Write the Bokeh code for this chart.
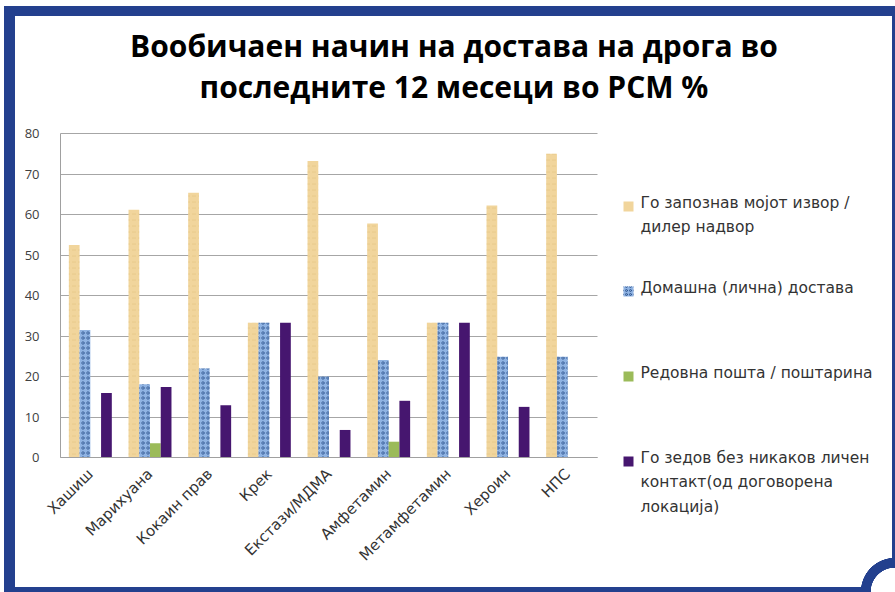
import math
from bokeh.plotting import figure
from bokeh.models import (ColumnDataSource, Range1d, FixedTicker, Label, BoxAnnotation,
                          Title, Grid)
from bokeh.transform import dodge
from bokeh.embed import file_html
from bokeh.resources import INLINE

categories = ["Хашиш", "Марихуана", "Кокаин прав", "Крек", "Екстази/МДМА",
              "Амфетамин", "Метамфетамин", "Хероин", "НПС"]
series_names = ["Го запознав мојот извор /\nдилер надвор",
                "Домашна (лична) достава",
                "Редовна пошта / поштарина",
                "Го зедов без никаков личен\nконтакт(од договорена\nлокација)"]
met_dealer = [52.5, 61.2, 65.4, 33.3, 73.2, 57.8, 33.3, 62.2, 75.0]
home_delivery = [31.5, 18.1, 22.0, 33.3, 20.0, 24.1, 33.3, 24.9, 24.9]
regular_mail = [0.0, 3.5, 0.0, 0.0, 0.0, 3.9, 0.0, 0.0, 0.0]
no_contact = [15.9, 17.4, 12.9, 33.3, 6.8, 14.0, 33.3, 12.5, 0.0]
y_ticks = [0, 10, 20, 30, 40, 50, 60, 70, 80]
title_lines = ["Вообичаен начин на достава на дрога во",
               "последните 12 месеци во РСМ %"]

BLUE = "#23408e"
ORANGE = "#f1d59c"
LBLUE = "#8fb3e3"
GREEN = "#9bbb59"
PURPLE = "#46166f"

n = len(categories)
idx = list(range(n))
src = ColumnDataSource(dict(idx=idx, cat=categories, s1=met_dealer, s2=home_delivery,
                            s3=regular_mail, s4=no_contact))

# geometry (pixels)
W, H = 895, 592
F_LEFT, F_RIGHT, F_TOP, F_BOTTOM = 16, 891, 120, 585
CAT_LEFT, CAT_RIGHT = 60, 597      # category (plot) area
Y0_PX, Y80_PX = 457, 133           # pixel rows of values 0 and 80
px_per_cat = (CAT_RIGHT - CAT_LEFT) / n
px_per_unit = (Y0_PX - Y80_PX) / 80.0
x_start = -0.5 - (CAT_LEFT - F_LEFT) / px_per_cat
x_end = -0.5 + (F_RIGHT - CAT_LEFT) / px_per_cat
y_end = 80.0 + (Y80_PX - F_TOP) / px_per_unit
y_start = y_end - (F_BOTTOM - F_TOP) / px_per_unit

p = figure(x_range=Range1d(x_start, x_end), y_range=Range1d(y_start, y_end),
           width=W, height=H, output_backend="svg", toolbar_location=None,
           min_border_left=F_LEFT, min_border_right=W - F_RIGHT,
           min_border_top=F_TOP, min_border_bottom=H - F_BOTTOM)

band = f"linear-gradient({BLUE},{BLUE})"
p.styles = {
    "background": (
        f"radial-gradient(circle at 100% 100%, #ffffff 0 24px, {BLUE} 24.5px 34px, transparent 34.5px),"
        f"{band} 4px 6px / calc(100% - 4px) 10px no-repeat,"
        f"{band} 4px 6px / 11px calc(100% - 6px) no-repeat,"
        f"{band} right 0px top 6px / 3px calc(100% - 6px) no-repeat,"
        f"{band} left 4px bottom 0px / calc(100% - 4px) 5px no-repeat,"
        "#ffffff"
    )
}
p.border_fill_color = None
p.background_fill_color = None
p.outline_line_color = None

w = 0.18
p.vbar(x=dodge("idx", -0.27), top="s1", width=w, source=src,
       fill_color=ORANGE, line_color=None,
       hatch_pattern="horizontal_dash", hatch_color="#e2c07e", hatch_alpha=0.6,
       hatch_scale=6, hatch_weight=1)
p.vbar(x=dodge("idx", -0.09), top="s2", width=w, source=src,
       fill_color=LBLUE, line_color=None,
       hatch_pattern="ring", hatch_color="#2f558f", hatch_alpha=0.8,
       hatch_scale=5, hatch_weight=1)
p.vbar(x=dodge("idx", 0.09), top="s3", width=w, source=src,
       fill_color=GREEN, line_color=None)
p.vbar(x=dodge("idx", 0.27), top="s4", width=w, source=src,
       fill_color=PURPLE, line_color=None)

# title: one two-line title, lines centred
TFONT = "Open Sans"
TSIZE = 30
if "text_align" in Title.properties():
    p.title.text = "\n".join(title_lines)
    p.title.text_align = "center"
else:
    pad = "\u00a0" * 9
    p.title.text = title_lines[0] + "\n" + pad + title_lines[1]
p.title.text_font = TFONT
p.title.text_font_style = "bold"
p.title.text_font_size = f"{TSIZE}px"
p.title.text_color = "#000000"
p.title.text_line_height = 1.0
p.title.align = "center"
p.title.standoff = 28

# axes
p.yaxis.fixed_location = -0.5
p.yaxis.ticker = FixedTicker(ticks=y_ticks)
p.yaxis.bounds = (0, 80)
p.yaxis.major_tick_line_color = None
p.yaxis.minor_tick_line_color = None
p.yaxis.axis_line_color = "#a0a0a0"
p.yaxis.major_label_text_font = "Open Sans"
p.yaxis.major_label_text_font_size = "13px"
p.yaxis.major_label_text_color = "#404040"
p.yaxis.major_label_standoff = 15

p.xaxis.fixed_location = 0
p.xaxis.bounds = (-0.5, n - 0.5)
p.xaxis.ticker = FixedTicker(ticks=idx)
p.xaxis.major_label_overrides = {i: c for i, c in zip(idx, categories)}
p.xaxis.major_label_orientation = math.pi / 4
p.xaxis.major_tick_line_color = None
p.xaxis.minor_tick_line_color = None
p.xaxis.axis_line_color = "#a0a0a0"
p.xaxis.major_label_text_font = "DejaVu Sans"
p.xaxis.major_label_text_font_size = "15px"
p.xaxis.major_label_text_color = "#333333"
p.xaxis.major_label_standoff = 8

p.xgrid.grid_line_color = None
p.ygrid.ticker = FixedTicker(ticks=y_ticks)
p.ygrid.grid_line_color = "#a6a6a6"
if "cross_bounds" in Grid.properties():
    p.ygrid.cross_bounds = (-0.5, n - 0.5)
else:
    p.ygrid.visible = False
    p.segment(x0=[-0.5] * len(y_ticks), x1=[n - 0.5] * len(y_ticks), y0=y_ticks, y1=y_ticks,
              line_color="#a6a6a6", level="underlay")

# legend (frame-relative screen coordinates, y up from frame bottom)
colors = [ORANGE, LBLUE, GREEN, PURPLE]
first_line_y = [202, 287, 372, 457]
line_gap = 24.5
text_x = 640 - F_LEFT
box_l = 623 - F_LEFT
for name, col, cy in zip(series_names, colors, first_line_y):
    y0 = F_BOTTOM - cy
    box = BoxAnnotation(left=box_l, right=box_l + 10, bottom=y0 - 9, top=y0 + 1,
                        left_units="screen", right_units="screen",
                        bottom_units="screen", top_units="screen",
                        fill_color=col, fill_alpha=1, line_color=None)
    if col == LBLUE:
        box.hatch_pattern = "ring"
        box.hatch_color = "#2f558f"
        box.hatch_scale = 4
    p.add_layout(box)
    for i, line in enumerate(name.split("\n")):
        p.add_layout(Label(x=text_x, y=y0 - i * line_gap, x_units="screen", y_units="screen",
                           text=line, text_font="DejaVu Sans", text_font_size="15.5px",
                           text_color="#333333", text_baseline="middle", text_align="left"))

open("out.html", "w").write(file_html(p, INLINE))
